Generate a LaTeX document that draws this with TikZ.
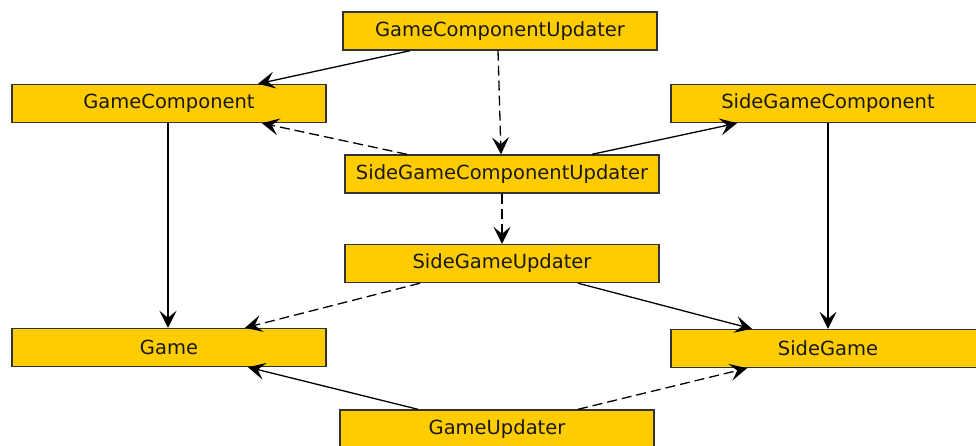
\documentclass[tikz,border=0pt]{standalone}
\usepackage{fontspec}
\setmainfont{DejaVu Sans}
\usetikzlibrary{arrows.meta}
\definecolor{boxfill}{HTML}{FFCC00}
\definecolor{boxline}{HTML}{333333}
\tikzset{
  cls/.style={draw=boxline, line width=1.4pt, fill=boxfill, rectangle,
    minimum width=314pt, minimum height=38pt, inner sep=0pt,
    font=\fontsize{19.5}{22}\selectfont, text=black!90},
  link/.style={line width=1.3pt, draw=black,
    -{Stealth[length=17pt, width=17pt, inset=7pt]}},
  uses/.style={link, dash pattern=on 10pt off 5pt}
}
\begin{document}
\begin{tikzpicture}[x=1pt, y=-1pt]
  \useasboundingbox (0,0) rectangle (976,445);
  \clip (0,0) rectangle (976,445);

  % classes
  \node[cls] (gcu)  at (500,31)    {GameComponentUpdater};
  \node[cls] (gc)   at (169,103.5) {GameComponent};
  \node[cls] (sgc)  at (828,103.5) {SideGameComponent};
  \node[cls] (sgcu) at (502,174)   {SideGameComponentUpdater};
  \node[cls] (sgu)  at (502,263.5) {SideGameUpdater};
  \node[cls] (game) at (169,347.5) {Game};
  \node[cls] (sg)   at (828,348.5) {SideGame};
  \node[cls] (gu)   at (497,429)   {GameUpdater};

  % associations
  \draw[link] ([xshift=-90pt]gcu.south) -- ([xshift=89pt]gc.north);
  \draw[uses] ([xshift=-2pt]gcu.south) -- ([xshift=-1pt]sgcu.north);
  \draw[uses] ([xshift=-95pt]sgcu.north) -- ([xshift=93pt]gc.south);
  \draw[link] ([xshift=90pt]sgcu.north) -- ([xshift=-91pt]sgc.south);
  \draw[uses] (sgcu.south) -- (sgu.north);
  \draw[link] ([xshift=-1pt]gc.south) -- ([xshift=-1pt]game.north);
  \draw[link] (sgc.south) -- (sg.north);
  \draw[uses] ([xshift=-82pt]sgu.south) -- ([xshift=76pt]game.north);
  \draw[link] ([xshift=76pt]sgu.south) -- ([xshift=-76pt]sg.north);
  \draw[link] ([xshift=-79pt]gu.north) -- ([xshift=79pt]game.south);
  \draw[uses] ([xshift=81pt]gu.north) -- ([xshift=-81pt]sg.south);
\end{tikzpicture}
\end{document}
